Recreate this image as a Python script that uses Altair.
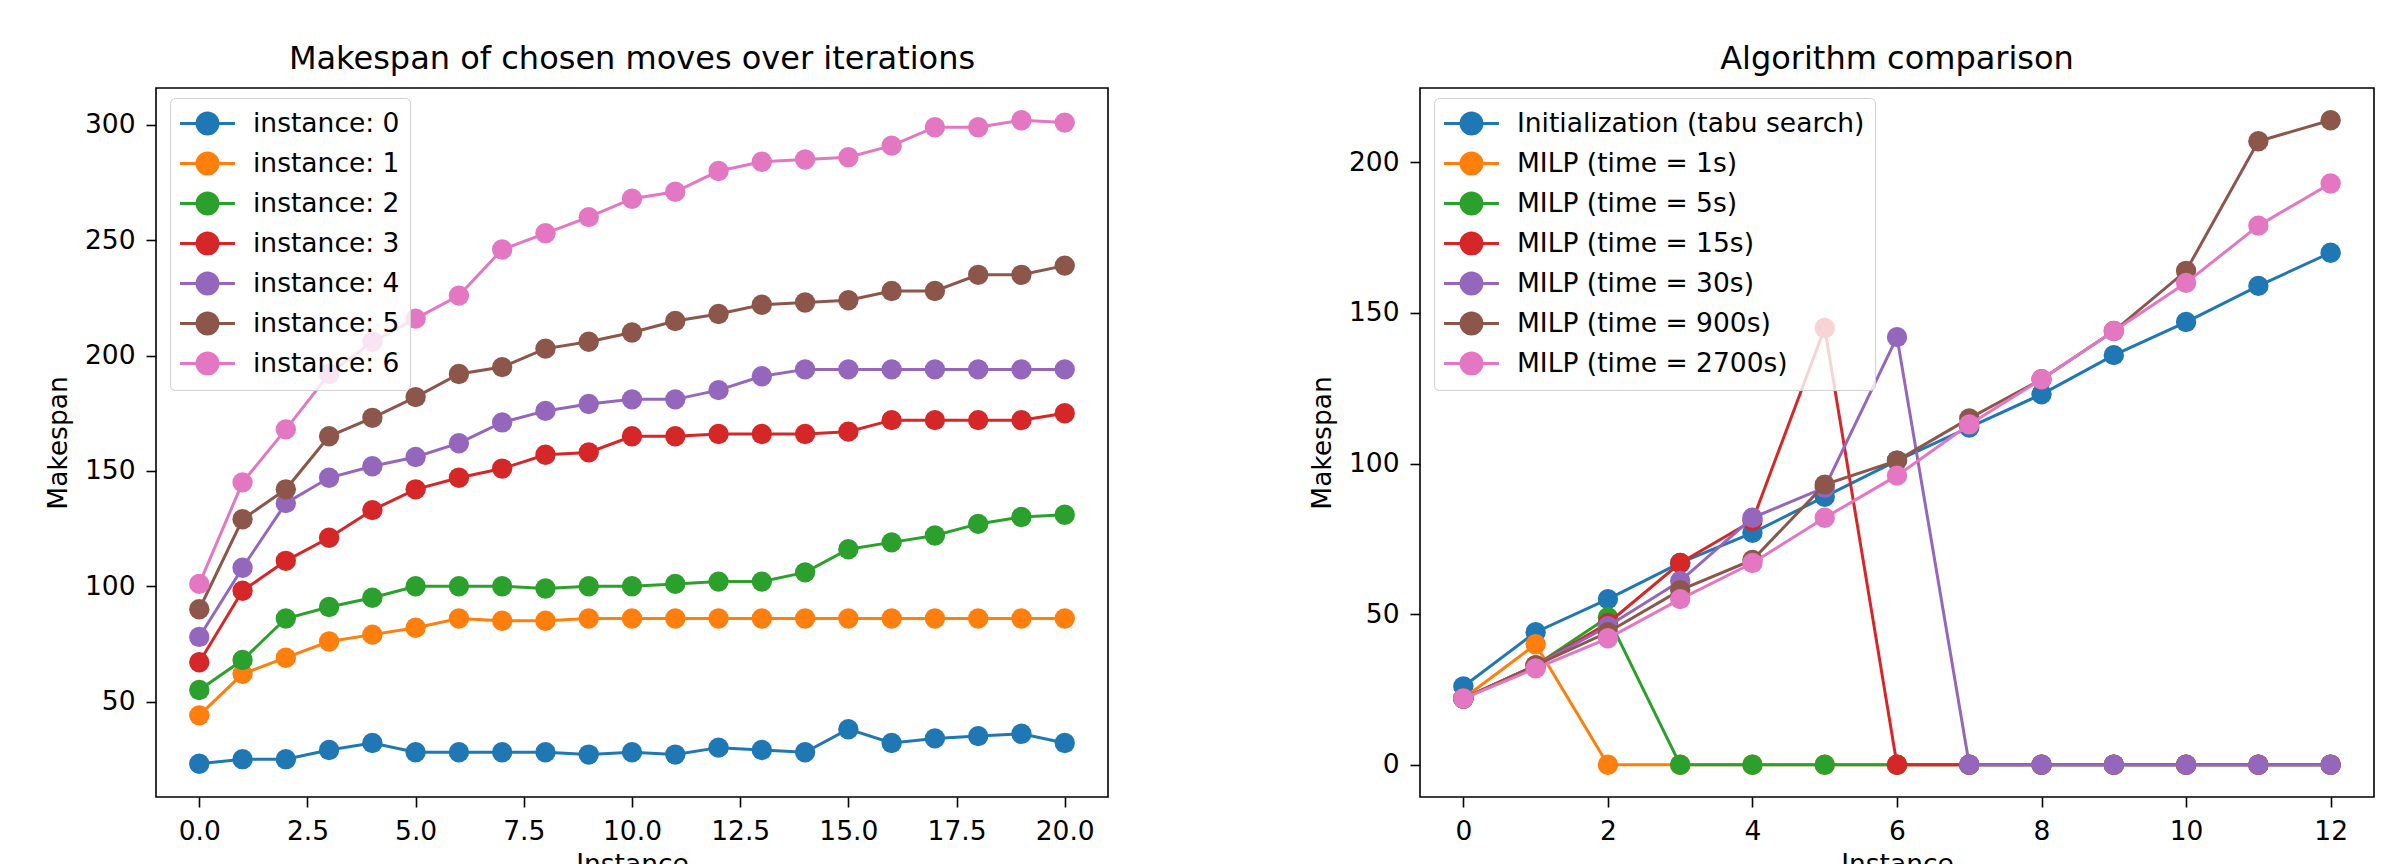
import altair as alt
import pandas as pd

FONT = "DejaVu Sans"
TAB10 = ["#1f77b4", "#ff7f0e", "#2ca02c", "#d62728", "#9467bd", "#8c564b", "#e377c2"]
FS = 26.5

# ---------------- left panel data ----------------
iterations = list(range(21))
instance_names = ["instance: 0", "instance: 1", "instance: 2", "instance: 3",
                  "instance: 4", "instance: 5", "instance: 6"]
inst_0 = [23, 25, 25, 29, 32, 28, 28, 28, 28, 27, 28, 27, 30, 29, 28, 38, 32, 34, 35, 36, 32]
inst_1 = [44, 62, 69, 76, 79, 82, 86, 85, 85, 86, 86, 86, 86, 86, 86, 86, 86, 86, 86, 86, 86]
inst_2 = [55, 68, 86, 91, 95, 100, 100, 100, 99, 100, 100, 101, 102, 102, 106, 116, 119, 122, 127, 130, 131]
inst_3 = [67, 98, 111, 121, 133, 142, 147, 151, 157, 158, 165, 165, 166, 166, 166, 167, 172, 172, 172, 172, 175]
inst_4 = [78, 108, 136, 147, 152, 156, 162, 171, 176, 179, 181, 181, 185, 191, 194, 194, 194, 194, 194, 194, 194]
inst_5 = [90, 129, 142, 165, 173, 182, 192, 195, 203, 206, 210, 215, 218, 222, 223, 224, 228, 228, 235, 235, 239]
inst_6 = [101, 145, 168, 192, 206, 216, 226, 246, 253, 260, 268, 271, 280, 284, 285, 286, 291, 299, 299, 302, 301]
left_series = [inst_0, inst_1, inst_2, inst_3, inst_4, inst_5, inst_6]

# ---------------- right panel data ----------------
instances = list(range(13))
algo_names = ["Initialization (tabu search)", "MILP (time = 1s)", "MILP (time = 5s)",
              "MILP (time = 15s)", "MILP (time = 30s)", "MILP (time = 900s)",
              "MILP (time = 2700s)"]
init_tabu = [26, 44, 55, 67, 77, 89, 101, 112, 123, 136, 147, 159, 170]
milp_1s = [22, 40, 0, 0, 0, 0, 0, 0, 0, 0, 0, 0, 0]
milp_5s = [22, 33, 49, 0, 0, 0, 0, 0, 0, 0, 0, 0, 0]
milp_15s = [22, 33, 47, 67, 81, 145, 0, 0, 0, 0, 0, 0, 0]
milp_30s = [22, 33, 46, 61, 82, 92, 142, 0, 0, 0, 0, 0, 0]
milp_900s = [22, 33, 44, 58, 68, 93, 101, 115, 128, 144, 164, 207, 214]
milp_2700s = [22, 32, 42, 55, 67, 82, 96, 113, 128, 144, 160, 179, 193]
right_series = [init_tabu, milp_1s, milp_5s, milp_15s, milp_30s, milp_900s, milp_2700s]


def to_frame(xs, names, series):
    rows = []
    for name, vals in zip(names, series):
        for x, v in zip(xs, vals):
            rows.append({"x": x, "y": v, "series": name})
    return pd.DataFrame(rows)


df_left = to_frame(iterations, instance_names, left_series)
df_right = to_frame(instances, algo_names, right_series)

# legend glyph: a line segment with a filled circle in its middle (matplotlib style)
SYMBOL = "M-2,0L2,0M-0.76,0A0.76,0.76,0,1,1,0.76,0A0.76,0.76,0,1,1,-0.76,0Z"


def panel(df, names, x_domain, x_values, x_format, y_domain, y_values, title, width):
    xenc = alt.X("x:Q", scale=alt.Scale(domain=x_domain, nice=False, zero=False),
                 axis=alt.Axis(values=x_values, format=x_format, title="Instance", titlePadding=7))
    yenc = alt.Y("y:Q", scale=alt.Scale(domain=y_domain, nice=False, zero=False),
                 axis=alt.Axis(values=y_values, format="d", title="Makespan", titlePadding=12))
    color = alt.Color(
        "series:N", sort=names, title=None,
        scale=alt.Scale(domain=names, range=TAB10),
        legend=alt.Legend(
            orient="none", legendX=14, legendY=10,
            symbolType=SYMBOL, symbolSize=756, symbolStrokeWidth=3, symbolOpacity=1,
            symbolOffset=12,
            labelFont=FONT, labelFontSize=FS, labelColor="black", labelLimit=900,
            labelOffset=30, rowPadding=7, padding=10, cornerRadius=5,
            strokeColor="#d0d0d0", fillColor="rgba(255,255,255,0.8)",
        ),
    )
    layers = []
    for n in names:
        sub = alt.Chart(df).transform_filter(alt.datum.series == n)
        layers.append(sub.mark_line(strokeWidth=3).encode(x=xenc, y=yenc, color=color))
        layers.append(sub.mark_point(filled=True, size=415, opacity=1).encode(x=xenc, y=yenc, color=color))
    return alt.layer(*layers).properties(
        width=width, height=709,
        title=alt.Title(title, fontSize=32, font=FONT, fontWeight="normal", color="black",
                        anchor="middle", offset=-13, baseline="alphabetic"),
    )


left = panel(df_left, instance_names, [-1, 21], [0, 2.5, 5, 7.5, 10, 12.5, 15, 17.5, 20], ".1f",
             [8.6, 316], [50, 100, 150, 200, 250, 300], "Makespan of chosen moves over iterations", 952)
right = panel(df_right, algo_names, [-0.6, 12.6], [0, 2, 4, 6, 8, 10, 12], "d",
              [-10.7, 224.7], [0, 50, 100, 150, 200], "Algorithm comparison", 954)

chart = (
    alt.hconcat(left, right, spacing=199)
    .resolve_scale(color="independent")
    .resolve_legend(color="independent")
    .properties(padding={"left": 36, "top": 34, "right": 5, "bottom": 5}, background="white")
    .configure_view(stroke="black", strokeWidth=1.6)
    .configure_axis(grid=False, domain=False, labelFont=FONT, labelFontSize=FS, labelColor="black",
                    tickColor="black", tickSize=10, tickWidth=1.6, labelPadding=11,
                    titleFont=FONT, titleFontSize=FS, titleFontWeight="normal", titleColor="black",
                    labelFlush=False, labelOverlap=False)
)

chart.save("out.html", embed_options={"renderer": "svg", "actions": False})
